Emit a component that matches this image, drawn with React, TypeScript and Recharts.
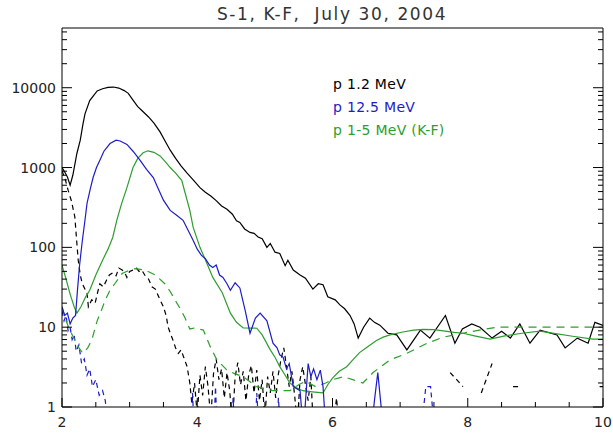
import React from "react";
import { LineChart, Line, XAxis, YAxis } from "recharts";

type Pt = [number, number | null];

const xTicks = [2, 2.5, 3, 3.5, 4, 4.5, 5, 5.5, 6, 6.5, 7, 7.5, 8, 8.5, 9, 9.5, 10];
const xLabels = [2, 4, 6, 8, 10];
const yTicks = [
  1, 2, 3, 4, 5, 6, 7, 8, 9,
  10, 20, 30, 40, 50, 60, 70, 80, 90,
  100, 200, 300, 400, 500, 600, 700, 800, 900,
  1000, 2000, 3000, 4000, 5000, 6000, 7000, 8000, 9000,
  10000, 20000, 30000, 40000, 50000,
];
const yLabels = [1, 10, 100, 1000, 10000];

const legendLabels = ["p 1.2 MeV", "p 12.5 MeV", "p 1-5 MeV (K-F)"];
const legendColors = ["#000000", "#1c1cc8", "#2c9e2c"];

// p 1.2 MeV, solid
const blackSolid: Pt[] = [
  [2.0, 1000], [2.04, 880], [2.08, 760], [2.12, 600], [2.16, 800], [2.22, 1500],
  [2.27, 2200], [2.31, 3500], [2.34, 4700], [2.41, 6900], [2.52, 9100], [2.6, 9700],
  [2.68, 10100], [2.76, 10200], [2.84, 9900], [2.92, 9200], [2.98, 8500], [3.05, 7000],
  [3.12, 5800], [3.2, 5000], [3.28, 4300], [3.36, 3600], [3.45, 2800], [3.53, 2100],
  [3.6, 1650], [3.68, 1300], [3.76, 1050], [3.85, 850], [3.94, 700], [4.04, 560],
  [4.12, 490], [4.2, 440], [4.28, 385], [4.36, 330], [4.44, 300], [4.52, 260],
  [4.58, 215], [4.63, 205], [4.7, 170], [4.78, 154], [4.84, 150], [4.9, 135],
  [4.96, 128], [5.03, 100], [5.08, 112], [5.15, 87], [5.22, 84], [5.3, 59],
  [5.34, 69], [5.42, 52], [5.52, 45], [5.6, 41], [5.71, 30], [5.79, 35],
  [5.86, 34], [5.93, 24], [6.04, 22], [6.11, 19], [6.18, 17], [6.26, 14],
  [6.32, 11], [6.38, 7.3], [6.46, 10], [6.55, 13], [6.62, 11.5], [6.7, 10.6],
  [6.82, 8.4], [6.95, 8], [7.1, 5.2], [7.3, 9.2], [7.44, 7.3], [7.67, 14],
  [7.81, 6.3], [7.92, 9.5], [8.06, 11], [8.18, 10], [8.36, 7.3], [8.5, 8.9],
  [8.63, 7.3], [8.77, 11], [8.92, 6.3], [9.07, 9.2], [9.32, 8], [9.44, 5.5],
  [9.62, 7.3], [9.78, 6.3], [9.88, 11.5], [10, 10.5],
];

// p 1.2 MeV, dashed
const blackDashed: Pt[] = [
  [2.0, 920], [2.05, 700], [2.09, 520], [2.14, 380], [2.19, 240], [2.22, 112],
  [2.24, 69], [2.27, 45], [2.3, 35], [2.34, 30], [2.37, 27], [2.39, 18],
  [2.44, 22], [2.49, 20], [2.53, 28], [2.56, 35], [2.61, 32], [2.66, 39],
  [2.7, 45], [2.75, 48], [2.8, 44], [2.84, 55], [2.89, 52], [2.93, 48],
  [2.96, 42], [3.0, 50], [3.05, 52], [3.1, 55], [3.14, 50], [3.18, 52],
  [3.23, 44], [3.28, 40], [3.33, 32], [3.38, 30], [3.45, 22], [3.5, 18],
  [3.54, 14], [3.57, 10], [3.6, 8.5], [3.64, 6.9], [3.68, 5.5], [3.72, 4.7],
  [3.76, 5.2], [3.8, 4.2], [3.85, 3.2], [3.89, 2], [3.92, 1.1], [3.96, 2.0],
  [4.0, 0.8], [4.04, 2.5], [4.08, 1.4], [4.12, 3.2], [4.16, 1.8], [4.2, 0.7],
  [4.24, 2.6], [4.28, 4.0], [4.32, 2.2], [4.36, 3.0], [4.4, 1.3], [4.44, 2.7],
  [4.48, 1.6], [4.52, 0.6], [4.56, 2.4], [4.6, 3.6], [4.64, 1.9], [4.68, 2.8],
  [4.72, 1.2], [4.76, 2.5], [4.8, 3.3], [4.84, 1.5], [4.88, 2.9], [4.92, 1.2],
  [4.96, 2.2], [5.0, 0.7], [5.04, 2.4], [5.08, 1.5], [5.12, 2.8], [5.16, 1.3],
  [5.2, 2.6], [5.24, 4.0], [5.28, 5.5], [5.32, 3.2], [5.36, 1.8], [5.4, 2.8],
  [5.44, 1.4], [5.48, 0.6], [5.52, 2.2], [5.56, 3.2], [5.6, 1.9], [5.64, 1.2],
  [5.68, 2.4], [5.72, 0.5], [5.76, null],
  [6.0, 0.5], [6.06, 1.3], [6.1, 0.5], [6.14, null],
  [7.74, 2.7], [7.93, 1.8], [7.96, null],
  [8.2, 1.5], [8.36, 3.5], [8.4, null],
  [8.67, 1.8], [8.8, 1.8], [8.85, null],
  [9.95, 1.8], [10, 1.8],
];

// p 12.5 MeV, solid
const blueSolid: Pt[] = [
  [2.0, 18], [2.04, 14], [2.08, 15], [2.12, 11], [2.16, 13], [2.2, 14],
  [2.23, 30], [2.26, 60], [2.3, 120], [2.34, 220], [2.37, 355], [2.42, 550],
  [2.46, 750], [2.51, 1000], [2.56, 1230], [2.62, 1600], [2.71, 2000], [2.8, 2200],
  [2.86, 2150], [2.96, 1950], [3.05, 1600], [3.15, 1250], [3.25, 950], [3.35, 750],
  [3.42, 550], [3.5, 390], [3.6, 290], [3.7, 250], [3.79, 218], [3.87, 160],
  [3.94, 122], [4.0, 95], [4.06, 80], [4.12, 72], [4.18, 60], [4.23, 56],
  [4.28, 60], [4.33, 45], [4.38, 42], [4.44, 35], [4.49, 29], [4.56, 36],
  [4.63, 31], [4.71, 16], [4.78, 8.4], [4.86, 13], [4.93, 15], [5.03, 12],
  [5.12, 6.3], [5.18, 5.5], [5.22, 4.5], [5.27, 4.2], [5.32, 3], [5.36, 3.5],
  [5.42, 1.8], [5.52, 1.6], [5.57, 0.5], [5.64, 3.5], [5.68, 2.4], [5.72, 3],
  [5.77, 2.2], [5.82, 2.9], [5.86, 1.8], [5.92, 0.3], [6.55, 0.3], [6.62, 1.2],
  [6.67, 2.7], [6.78, 0.3], [10, 0.3],
];

// p 12.5 MeV, dashed
const blueDashed: Pt[] = [
  [2.0, 16], [2.03, 12], [2.06, 14], [2.09, 9], [2.12, 10], [2.15, 7],
  [2.18, 8], [2.21, 5], [2.25, 6], [2.29, 3.5], [2.33, 4], [2.37, 2.5],
  [2.41, 3], [2.45, 1.8], [2.5, 2.2], [2.55, 1.4], [2.6, 1.6], [2.64, 1.2],
  [2.7, 0.4], [2.74, null],
  [3.9, 0.4], [3.93, 1.5], [3.96, 0.4], [3.98, null],
  [4.24, 0.4], [4.27, 1.8], [4.3, 0.4], [4.32, null],
  [4.5, 0.4], [4.53, 1.3], [4.56, 0.4], [4.58, null],
  [4.85, 0.4], [4.88, 1.5], [4.92, 0.4], [4.94, null],
  [5.17, 0.4], [5.2, 1.3], [5.24, 0.4], [5.26, null],
  [7.3, 0.4], [7.38, 1.8], [7.45, 1.8], [7.52, 0.4],
];

// p 1-5 MeV (K-F), solid
const greenSolid: Pt[] = [
  [2.0, 60], [2.06, 40], [2.12, 26], [2.18, 18], [2.22, 15], [2.28, 18],
  [2.35, 24], [2.41, 29], [2.5, 45], [2.6, 69], [2.68, 95], [2.75, 133],
  [2.81, 218], [2.88, 350], [2.96, 560], [3.05, 1000], [3.12, 1300], [3.2, 1530],
  [3.27, 1620], [3.36, 1550], [3.45, 1400], [3.52, 1200], [3.6, 1000], [3.68, 850],
  [3.77, 690], [3.83, 450], [3.89, 290], [3.94, 178], [4.04, 100], [4.12, 70],
  [4.23, 42], [4.37, 27], [4.49, 15], [4.58, 11.5], [4.68, 9.8], [4.88, 9.7],
  [4.96, 8], [5.08, 5.2], [5.15, 4.2], [5.22, 3.2], [5.3, 2.5], [5.37, 2],
  [5.46, 1.75], [5.56, 1.6], [5.7, 1.55], [5.86, 1.5], [5.93, 1.9], [6.0, 2.3],
  [6.1, 2.8], [6.21, 3.2], [6.3, 3.9], [6.4, 4.8], [6.51, 5.6], [6.65, 6.8],
  [6.75, 7.5], [6.85, 8], [7.04, 8.7], [7.2, 9.2], [7.34, 9.4], [7.5, 9.3],
  [7.64, 9], [7.8, 8.6], [7.93, 8.4], [8.1, 7.8], [8.33, 7.1], [8.55, 7.8],
  [8.8, 8.4], [9.07, 8.9], [9.3, 8.3], [9.55, 7.7], [9.85, 7.1], [10, 7.1],
];

// p 1-5 MeV (K-F), dashed
const greenDashed: Pt[] = [
  [2.0, 18], [2.06, 12], [2.12, 9], [2.19, 6.9], [2.25, 5.5], [2.31, 4.7],
  [2.38, 5.5], [2.44, 6.9], [2.52, 12], [2.58, 16], [2.64, 22], [2.71, 29],
  [2.78, 35], [2.89, 47], [3.0, 52], [3.08, 54], [3.23, 52], [3.38, 45],
  [3.52, 35], [3.6, 28], [3.67, 22], [3.75, 17], [3.82, 13], [3.89, 9.5],
  [3.97, 9.8], [4.09, 9.2], [4.2, 5.5], [4.29, 3.9], [4.44, 2.9], [4.56, 2.6],
  [4.68, 2.4], [4.88, 1.8], [5.0, 1.7], [5.12, 1.6], [5.37, 1.6], [5.5, 1.9],
  [5.6, 2.1], [5.75, 1.8], [5.9, 2.0], [6.0, 2.2], [6.16, 2.4], [6.3, 2.2],
  [6.45, 2.0], [6.6, 2.7], [6.85, 3.9], [7.1, 4.7], [7.4, 6.3], [7.64, 7.5],
  [7.93, 8.4], [8.2, 9.3], [8.45, 10], [8.8, 10], [9.2, 10], [9.6, 10],
  [10, 10],
];

const toRows = (pts: Pt[]) => pts.map(([x, y]) => ({ x, y }));

const FONT = "DejaVu Sans, sans-serif";
const TXT = "#222";

const isLabel = (v: number, list: number[]) => list.some((l) => Math.abs(l - v) < 1e-9);

const LeftTick = (p: any) => {
  const v = p.payload.value;
  const major = isLabel(v, yLabels);
  return (
    <g>
      <line x1={p.x} x2={p.x + (major ? 10 : 5)} y1={p.y} y2={p.y} stroke="#000" />
      {major && (
        <text x={p.x - 6} y={p.y + 5} textAnchor="end" fontSize={14} fontFamily={FONT} fill={TXT}>
          {v}
        </text>
      )}
    </g>
  );
};

const RightTick = (p: any) => {
  const major = isLabel(p.payload.value, yLabels);
  return <line x1={p.x} x2={p.x - (major ? 10 : 5)} y1={p.y} y2={p.y} stroke="#000" />;
};

const BottomTick = (p: any) => {
  const v = p.payload.value;
  const major = isLabel(v, xLabels);
  return (
    <g>
      <line x1={p.x} x2={p.x} y1={p.y} y2={p.y - (major ? 9 : 5)} stroke="#000" />
      {major && (
        <text x={p.x} y={p.y + 20} textAnchor="middle" fontSize={14} fontFamily={FONT} fill={TXT}>
          {v}
        </text>
      )}
    </g>
  );
};

const TopTick = (p: any) => {
  const major = isLabel(p.payload.value, xLabels);
  return <line x1={p.x} x2={p.x} y1={p.y} y2={p.y + (major ? 9 : 5)} stroke="#000" />;
};

export default function App() {
  const series = [
    { data: blackSolid, color: legendColors[0], dash: undefined },
    { data: blackDashed, color: legendColors[0], dash: "5 4" },
    { data: blueDashed, color: legendColors[1], dash: "5 4" },
    { data: greenDashed, color: legendColors[2], dash: "8 6" },
    { data: greenSolid, color: legendColors[2], dash: undefined },
    { data: blueSolid, color: legendColors[1], dash: undefined },
  ];
  return (
    <div style={{ position: "absolute", left: 0, top: 0, width: 613, height: 435, background: "#fff" }}>
      <LineChart width={613} height={435} margin={{ top: 27, right: 9, left: 0, bottom: 0 }}>
        <XAxis
          xAxisId="b"
          dataKey="x"
          type="number"
          domain={[2, 10]}
          ticks={xTicks}
          interval={0}
          allowDataOverflow
          height={28}
          tickSize={0}
          tickMargin={0}
          tickLine={false}
          tick={<BottomTick />}
          axisLine={{ stroke: "#000" }}
        />
        <XAxis
          xAxisId="t"
          orientation="top"
          dataKey="x"
          type="number"
          domain={[2, 10]}
          ticks={xTicks}
          interval={0}
          height={1}
          tickSize={0}
          tickMargin={0}
          tickLine={false}
          tick={<TopTick />}
          axisLine={{ stroke: "#000" }}
        />
        <YAxis
          yAxisId="l"
          type="number"
          scale="log"
          domain={[1, 56000]}
          ticks={yTicks}
          interval={0}
          allowDataOverflow
          width={62}
          tickSize={0}
          tickMargin={0}
          tickLine={false}
          tick={<LeftTick />}
          axisLine={{ stroke: "#000" }}
        />
        <YAxis
          yAxisId="r"
          orientation="right"
          type="number"
          scale="log"
          domain={[1, 56000]}
          ticks={yTicks}
          interval={0}
          allowDataOverflow
          width={1}
          tickSize={0}
          tickMargin={0}
          tickLine={false}
          tick={<RightTick />}
          axisLine={{ stroke: "#000" }}
        />
        {series.map((s, i) => (
          <Line
            key={i}
            xAxisId="b"
            yAxisId="l"
            data={toRows(s.data)}
            dataKey="y"
            type="linear"
            stroke={s.color}
            strokeWidth={1.2}
            strokeDasharray={s.dash}
            dot={false}
            activeDot={false}
            connectNulls={false}
            isAnimationActive={false}
          />
        ))}
      </LineChart>
      <svg width={613} height={435} style={{ position: "absolute", left: 0, top: 0, pointerEvents: "none" }}>
        <text x={332} y={20} textAnchor="middle" fontSize={17} letterSpacing={1.6} fontFamily={FONT} fill="#333">
          S-1, K-F,{"\u00a0\u00a0"}July 30, 2004
        </text>
        {legendLabels.map((l, i) => (
          <text key={l} x={333} y={89 + i * 23} fontSize={14} letterSpacing={0.3} fontFamily={FONT} fill={legendColors[i]}>
            {l}
          </text>
        ))}
      </svg>
    </div>
  );
}
